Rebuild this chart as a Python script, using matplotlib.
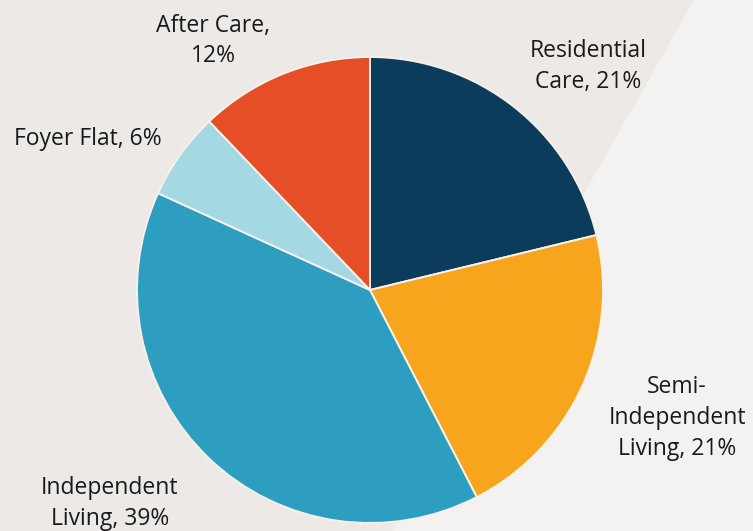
import matplotlib
matplotlib.use("Agg")
import matplotlib.pyplot as plt
from matplotlib.patches import Polygon

# placement shares, clockwise from 12 o'clock
categories = ["Residential Care", "Semi-Independent Living", "Independent Living",
              "Foyer Flat", "After Care"]
shares = [21, 21, 39, 6, 12]
label_text = ["Residential\nCare, 21%", "Semi-\nIndependent\nLiving, 21%",
              "Independent\nLiving, 39%", "Foyer Flat, 6%", "After Care,\n12%"]
colors = ["#0b3c5c", "#f7a51d", "#2e9ec0", "#a4d8e3", "#e54e26"]

# label anchors in pie-radius units
label_pos = [(0.936, 0.961), (1.318, -0.548), (-1.116, -0.918),
             (-1.210, 0.648), (-0.674, 1.069)]

plt.rcParams["font.family"] = ["Open Sans", "DejaVu Sans"]

fig = plt.figure(figsize=(7.53, 5.31), dpi=100)
fig.patch.set_facecolor("#ece9e6")

# lighter diagonal band on the right
bg = fig.add_axes([0, 0, 1, 1], zorder=0)
bg.set_xlim(0, 1)
bg.set_ylim(0, 1)
bg.add_patch(Polygon([(694 / 753, 1), (1, 1), (1, 0), (392 / 753, 0)],
                     closed=True, facecolor="#f3f2f0", edgecolor="none"))
bg.axis("off")

ax = fig.add_axes([0, 0, 1, 1], zorder=1)
ax.set_facecolor("none")
ax.pie(shares, colors=colors, startangle=90, counterclock=False, radius=1.0,
       wedgeprops=dict(edgecolor="#f6f1ea", linewidth=1.4))

for txt, (x, y) in zip(label_text, label_pos):
    ax.text(x, y, txt, ha="center", va="center", fontsize=16.5,
            color="#1a1a1a", linespacing=1.38)

ax.set_xlim(-370 / 233, (753 - 370) / 233)
ax.set_ylim(-(531 - 290) / 233, 290 / 233)
ax.set_aspect("auto")
ax.axis("off")

fig.savefig("out.png", dpi=100, facecolor=fig.get_facecolor())
